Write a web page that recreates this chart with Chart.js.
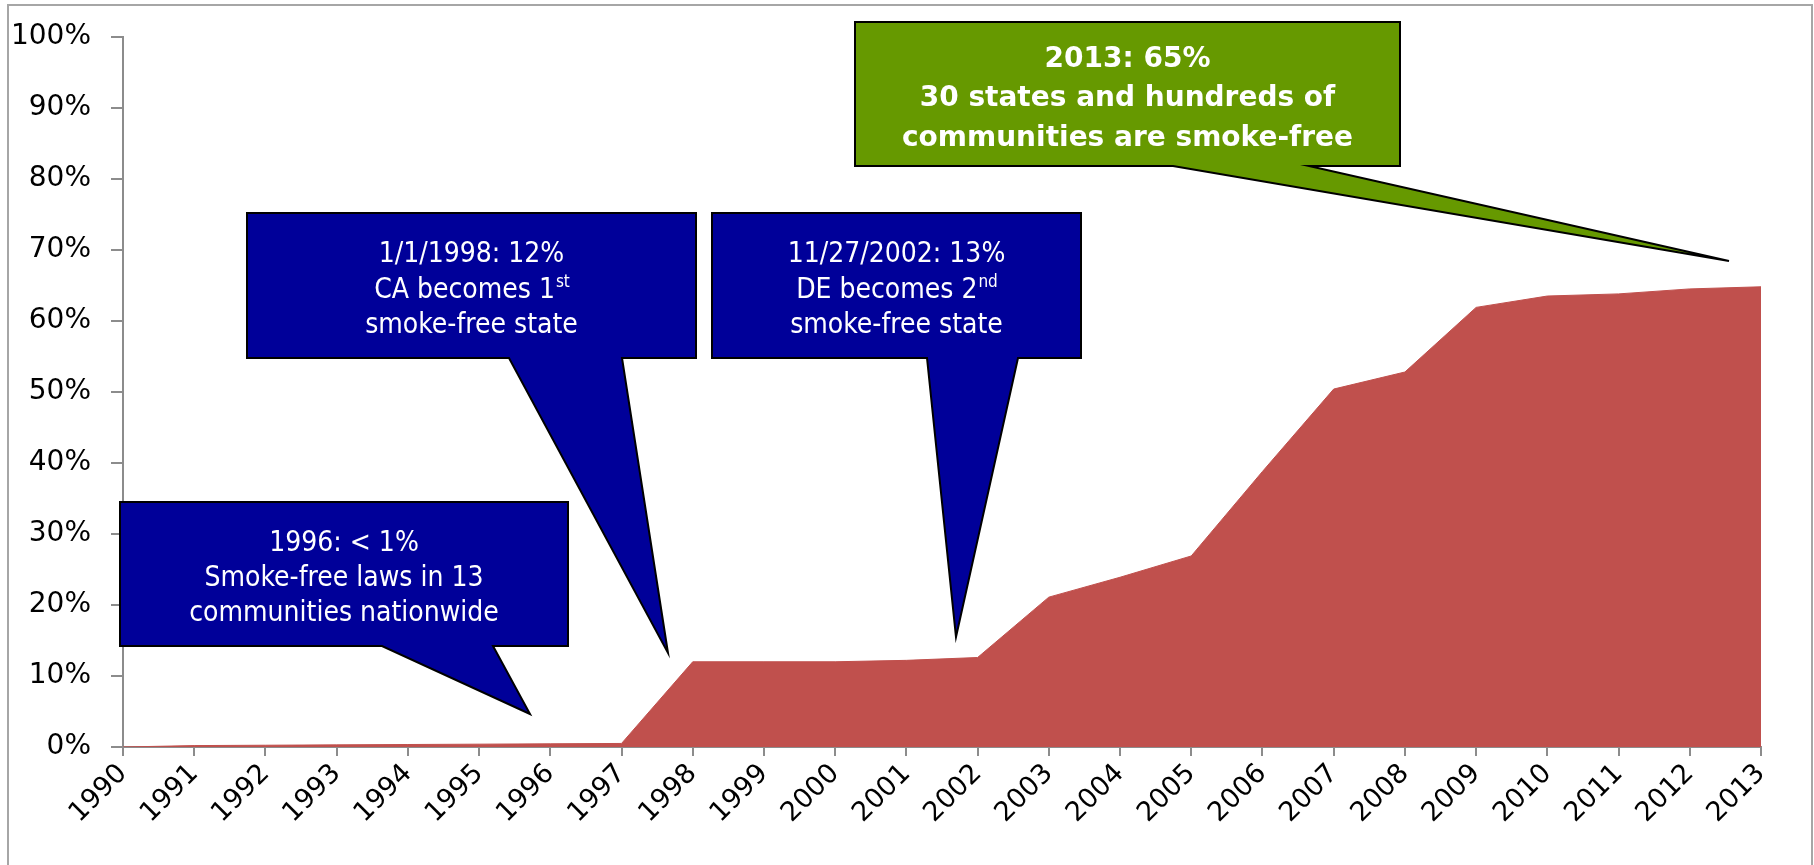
<!DOCTYPE html>
<html>
<head>
<meta charset="utf-8">
<script src="https://cdn.jsdelivr.net/npm/chart.js@4.4.1/dist/chart.umd.min.js"></script>
<style>
  html, body { margin: 0; padding: 0; background: #fff; }
  #wrap { position: relative; width: 1814px; height: 865px; }
</style>
</head>
<body>
<div id="wrap"><canvas id="chart"></canvas></div>
<script>
const years = ["1990", "1991", "1992", "1993", "1994", "1995", "1996", "1997", "1998", "1999", "2000", "2001",
  "2002", "2003", "2004", "2005", "2006", "2007", "2008", "2009", "2010", "2011", "2012", "2013"];
const coverage = [0, 0.2, 0.25, 0.3, 0.35, 0.4, 0.45, 0.5, 12.0, 12.0, 12.0, 12.2,
  12.6, 21.1, 23.9, 26.9, 38.8, 50.4, 52.8, 61.9, 63.5, 63.8, 64.5, 64.8];
const yTicks = [0, 10, 20, 30, 40, 50, 60, 70, 80, 90, 100];

// callout text
const note1996 = [["1996: < 1%"], ["Smoke-free laws in 13"], ["communities nationwide"]];
const note1998 = [["1/1/1998: 12%"], ["CA becomes 1", "st"], ["smoke-free state"]];
const note2002 = [["11/27/2002: 13%"], ["DE becomes 2", "nd"], ["smoke-free state"]];
const note2013 = [["2013: 65%"], ["30 states and hundreds of"], ["communities are smoke-free"]];

const blueFont = "'DejaVu Sans Condensed', 'DejaVu Sans', sans-serif";

// box = [left, top, right, bottom], base = pointer base on bottom edge, tip = pointer tip
const callouts = [
  { lines: note1996, box: [120, 502, 568, 646], base: [382, 493], tip: [530, 714], fill: "#000099", font: "28px " + blueFont, lh: 35.4 },
  { lines: note1998, box: [247, 213, 696, 358], base: [509, 622], tip: [668, 653], fill: "#000099", font: "28px " + blueFont, lh: 35.4 },
  { lines: note2002, box: [712, 213, 1081, 358], base: [927, 1018], tip: [956, 637], fill: "#000099", font: "28px " + blueFont, lh: 35.4 },
  { lines: note2013, box: [855, 22, 1400, 166], base: [1173, 1309], tip: [1729, 261], fill: "#669900", font: "bold 28px 'DejaVu Sans', sans-serif", lh: 39.5 }
];

const calloutPlugin = {
  id: "callouts",
  beforeDraw(chart) {
    const ctx = chart.ctx;
    ctx.save();
    ctx.strokeStyle = "#a6a6a6";
    ctx.lineWidth = 2;
    ctx.strokeRect(8, 5, 1804, 900);
    ctx.restore();
  },
  afterDraw(chart) {
    const ctx = chart.ctx;
    callouts.forEach(c => {
      const [x1, y1, x2, y2] = c.box;
      ctx.save();
      ctx.beginPath();
      ctx.moveTo(x1, y1);
      ctx.lineTo(x2, y1);
      ctx.lineTo(x2, y2);
      ctx.lineTo(c.base[1], y2);
      ctx.lineTo(c.tip[0], c.tip[1]);
      ctx.lineTo(c.base[0], y2);
      ctx.lineTo(x1, y2);
      ctx.closePath();
      ctx.fillStyle = c.fill;
      ctx.fill();
      ctx.lineWidth = 2;
      ctx.strokeStyle = "#000";
      ctx.stroke();

      const cx = (x1 + x2) / 2;
      const cy = (y1 + y2) / 2 + 12;
      ctx.fillStyle = "#fff";
      ctx.textBaseline = "alphabetic";
      ctx.textAlign = "left";
      c.lines.forEach((parts, i) => {
        const y = cy + (i - (c.lines.length - 1) / 2) * c.lh;
        ctx.font = c.font;
        const w0 = ctx.measureText(parts[0]).width;
        let w1 = 0;
        if (parts[1]) {
          ctx.font = c.font.replace("28px", "17px");
          w1 = ctx.measureText(parts[1]).width;
        }
        const sx = cx - (w0 + w1) / 2;
        ctx.font = c.font;
        ctx.fillText(parts[0], sx, y);
        if (parts[1]) {
          ctx.font = c.font.replace("28px", "17px");
          ctx.fillText(parts[1], sx + w0 + 1, y - 11);
        }
      });
      ctx.restore();
    });
  }
};

const ctx = document.getElementById("chart").getContext("2d");

new Chart(ctx, {
  type: "line",
  data: {
    labels: years,
    datasets: [{
      data: coverage,
      fill: "origin",
      backgroundColor: "#C0504D",
      borderColor: "#C0504D",
      borderWidth: 1,
      pointRadius: 0,
      tension: 0
    }]
  },
  options: {
    responsive: true,
    maintainAspectRatio: false,
    animation: false,
    layout: { padding: { top: 32, left: 10, right: 53, bottom: 0 } },
    plugins: { legend: { display: false }, tooltip: { enabled: false } },
    scales: {
      x: {
        z: 1,
        grid: { drawOnChartArea: false, tickLength: 9, color: "#8c8c8c", lineWidth: 2 },
        border: { color: "#8c8c8c", width: 2 },
        ticks: {
          autoSkip: false, minRotation: 45, maxRotation: 45, padding: 2,
          color: "#000", font: { family: "'DejaVu Sans', sans-serif", size: 27 }
        },
        afterFit: s => { s.height = 118; }
      },
      y: {
        min: 0, max: 100,
        afterBuildTicks: s => { s.ticks = yTicks.map(v => ({ value: v })); },
        grid: { drawOnChartArea: false, tickLength: 12, color: "#8c8c8c", lineWidth: 2 },
        border: { color: "#8c8c8c", width: 2 },
        ticks: {
          padding: 20, color: "#000",
          font: { family: "'DejaVu Sans', sans-serif", size: 28 },
          callback: v => v + "%"
        },
        afterFit: s => { s.width = 113; }
      }
    }
  },
  plugins: [calloutPlugin]
});
</script>
</body>
</html>
